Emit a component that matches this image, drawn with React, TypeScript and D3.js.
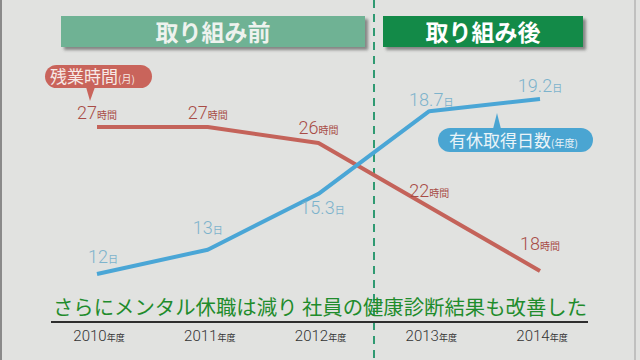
import React from "react";
import * as d3 from "d3";

// data
const years = ["2010", "2011", "2012", "2013", "2014"];
const overtimeHours = [27, 27, 26, 22, 18];
const paidLeaveDays = [12, 13, 15.3, 18.7, 19.2];
const redLabels = ["27", "27", "26", "22", "18"];
const blueLabels = ["12", "13", "15.3", "18.7", "19.2"];

// label nudges (dx, dy) from each point
const redNudge = [[0, -8], [0, -8], [0, -9], [0, -10], [0, -21]];
const blueNudge = [[6, -11], [0, -16], [4, 20], [2, -5], [0, -7]];

const W = 640;
const H = 360;
const JP = "Noto Sans CJK JP, Noto Sans, sans-serif";
const NUM = "Roboto, Noto Sans CJK JP, sans-serif";

const x = d3.scalePoint<string>().domain(years).range([97, 540]);
const yRed = d3.scaleLinear().domain([18, 27]).range([271, 127]);
const yBlue = d3.scaleLinear().domain([12, 19.2]).range([274, 99]);

const redLine = d3
  .line<number>()
  .x((d, i) => x(years[i]) as number)
  .y(d => yRed(d));
const blueLine = d3
  .line<number>()
  .x((d, i) => x(years[i]) as number)
  .y(d => yBlue(d));

const TitleBox = ({ x0, w, fill, text, color }) => (
  <g>
    <rect x={x0 + 3} y={19} width={w} height={31} fill="#3a3a3a" opacity={0.55} filter="url(#blur)" />
    <rect x={x0} y={16} width={w} height={31} fill={fill} />
    <text
      x={x0 + w / 2}
      y={41}
      textAnchor="middle"
      fontFamily={JP}
      fontWeight={700}
      fontSize={23}
      fill={color}
    >
      {text}
    </text>
  </g>
);

const ValueLabel = ({ cx, cy, num, unit, color, size, unitSize }) => (
  <text x={cx} y={cy} textAnchor="middle" fill={color}>
    <tspan fontFamily={NUM} fontWeight={300} fontSize={size}>{num}</tspan>
    <tspan fontFamily={JP} fontSize={unitSize}>{unit}</tspan>
  </text>
);

export default function App() {
  const dividerX = 374;
  return (
    <svg
      width={W}
      height={H}
      style={{ position: "absolute", left: 0, top: 0 }}
      xmlns="http://www.w3.org/2000/svg"
    >
      <defs>
        <filter id="blur" x="-10%" y="-30%" width="120%" height="160%">
          <feGaussianBlur stdDeviation="1.5" />
        </filter>
      </defs>
      <rect width={W} height={H} fill="#e1e2e0" />
      <line x1={1} x2={1} y1={0} y2={H} stroke="#8a8a8a" strokeWidth={2} />
      <line x1={635} x2={635} y1={0} y2={H} stroke="#b5b5b5" strokeWidth={1.5} />

      <TitleBox x0={61} w={304} fill="#6fb294" text="取り組み前" color="#eef2ee" />
      <TitleBox x0={383} w={200} fill="#138a48" text="取り組み後" color="#ffffff" />

      <line
        x1={dividerX}
        x2={dividerX}
        y1={0}
        y2={H}
        stroke="#2f9a72"
        strokeWidth={2}
        strokeDasharray="8 6"
      />

      {/* lines */}
      <path d={redLine(overtimeHours) as string} fill="none" stroke="#c4635a" strokeWidth={4} strokeLinejoin="round" />
      <path d={blueLine(paidLeaveDays) as string} fill="none" stroke="#4aa6d6" strokeWidth={4} strokeLinejoin="round" />

      {/* red value labels */}
      {overtimeHours.map((v, i) => (
        <ValueLabel
          key={"r" + i}
          cx={(x(years[i]) as number) + redNudge[i][0]}
          cy={yRed(v) + redNudge[i][1]}
          num={redLabels[i]}
          unit="時間"
          color="#a84c46"
          size={18}
          unitSize={10}
        />
      ))}

      {/* blue value labels */}
      {paidLeaveDays.map((v, i) => (
        <ValueLabel
          key={"b" + i}
          cx={(x(years[i]) as number) + blueNudge[i][0]}
          cy={yBlue(v) + blueNudge[i][1]}
          num={blueLabels[i]}
          unit="日"
          color="#7db3cc"
          size={18}
          unitSize={10}
        />
      ))}

      {/* legend pills */}
      <g>
        <path d="M86,87 L90,101 L95,87 Z" fill="#c9645b" />
        <rect x={45} y={65} width={107} height={23} rx={11.5} fill="#c9645b" />
        <text x={50} y={83} fontFamily={JP} fill="#f7e9e6">
          <tspan fontSize={17}>残業時間</tspan>
          <tspan fontSize={10}>(月)</tspan>
        </text>
      </g>
      <g>
        <path d="M493,129 L497,113 L501,129 Z" fill="#4aa5d2" />
        <rect x={438} y={128} width={155} height={24} rx={12} fill="#4aa5d2" />
        <text x={449} y={147} fontFamily={JP} fill="#eaf4f8">
          <tspan fontSize={17}>有休取得日数</tspan>
          <tspan fontSize={10}>(年度)</tspan>
        </text>
      </g>

      {/* caption */}
      <text
        x={53}
        y={315}
        fontFamily={JP}
        fontSize={20}
        fill="#1f8c2c"
        textLength={534}
        lengthAdjust="spacingAndGlyphs"
      >
        さらにメンタル休職は減り 社員の健康診断結果も改善した
      </text>
      <line x1={51} x2={588} y1={322} y2={322} stroke="#2e2e2e" strokeWidth={2} />

      {/* year axis */}
      {years.map(yr => (
        <text
          key={yr}
          x={(x(yr) as number) + 2}
          y={341}
          textAnchor="middle"
          fill="#333333"
        >
          <tspan fontFamily={NUM} fontWeight={300} fontSize={15}>{yr}</tspan>
          <tspan fontFamily={JP} fontSize={9}>年度</tspan>
        </text>
      ))}
    </svg>
  );
}
